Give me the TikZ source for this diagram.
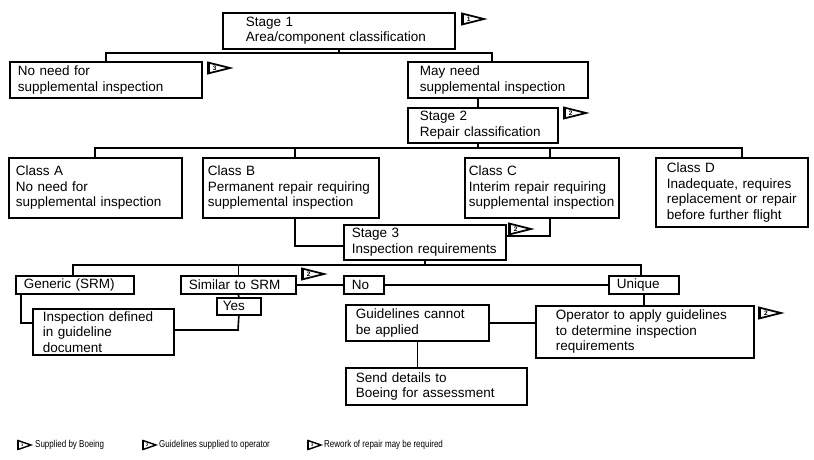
\documentclass[tikz,border=0pt]{standalone}
\usepackage{fontspec}
\setmainfont{Liberation Sans}
\newfontfamily\legendfont[FakeStretch=0.8]{Liberation Sans}
\begin{document}
\begin{tikzpicture}[x=1pt,y=-1pt,
  bx/.style={draw, line width=1.7pt, anchor=north west, align=left, inner ysep=0pt,
    font=\fontsize{13.5}{15.5}\selectfont,
    execute at begin node={\hyphenpenalty=10000\exhyphenpenalty=10000\relax}},
  conn/.style={line width=1.6pt},
  flagmark/.pic={
    \draw[line width=1.8pt, line join=miter] (0,-5.5) -- (22,0) -- (0,5.5) -- cycle;
    \draw[line width=3pt] (0,-6.4) -- (0,6.4);
    \node[font=\fontsize{6.5}{6.5}\selectfont\bfseries, inner sep=0pt] (n) at (6.8,0) {#1};
  },
  legflag/.pic={
    \draw[line width=1.4pt, line join=miter] (0,-4.5) -- (13,0) -- (0,4.5) -- cycle;
    \draw[line width=2.4pt] (0,-5.2) -- (0,5.2);
    \node[font=\fontsize{4}{4}\selectfont\bfseries, inner sep=0pt] (n) at (4.3,0) {#1};
  },
  legtext/.style={anchor=west, inner sep=0pt, font=\legendfont\fontsize{10}{10}\selectfont}
]
\useasboundingbox (0,0) rectangle (814,460);

% ---- boxes ----
\node[bx, minimum width=232, minimum height=36, inner xsep=23, text width=186] (s1) at (222,12) {Stage 1\\Area/component classification};
\node[bx, minimum width=192, minimum height=36, inner xsep=8, text width=176] (noneed) at (9,61) {No need for\\supplemental inspection};
\node[bx, minimum width=180, minimum height=36, inner xsep=12, text width=156] (mayneed) at (407,61) {May need\\supplemental inspection};
\node[bx, minimum width=150, minimum height=35, inner xsep=12, text width=126] (s2) at (407,107) {Stage 2\\Repair classification};

\node[bx, minimum width=173, minimum height=60, inner xsep=7, text width=159] (cA) at (8,157) {Class A\\No need for\\supplemental inspection};
\node[bx, minimum width=176, minimum height=60, inner xsep=5, text width=166] (cB) at (202,157) {Class B\\Permanent repair requiring\\supplemental inspection};
\node[bx, minimum width=154, minimum height=60, inner xsep=4, text width=146] (cC) at (464,157) {Class C\\Interim repair requiring\\supplemental inspection};
\node[bx, minimum width=152, minimum height=69, inner xsep=11, text width=130] (cD) at (655,157) {Class D\\Inadequate, requires\\replacement or repair\\before further flight};

\node[bx, minimum width=162, minimum height=35, inner xsep=8, text width=146] (s3) at (343,224) {Stage 3\\Inspection requirements};

\node[bx, minimum width=118, minimum height=18, inner xsep=8, text width=102] (gen) at (15,275) {Generic (SRM)};
\node[bx, minimum width=115, minimum height=18, inner xsep=8, text width=99] (sim) at (180,275) {Similar to SRM};
\node[bx, minimum width=40, minimum height=18, inner xsep=8, text width=24] (no) at (343,275) {No};
\node[bx, minimum width=70, minimum height=18, inner xsep=8, text width=54] (uniq) at (608,275) {Unique};

\node[bx, minimum width=44, minimum height=17, inner xsep=6, text width=32] (yes) at (216,297) {Yes};
\node[bx, minimum width=141, minimum height=46, inner xsep=10, text width=121] (insp) at (32,308) {Inspection defined\\in guideline\\document};
\node[bx, minimum width=143, minimum height=36, inner xsep=10, text width=123] (gl) at (345,304) {Guidelines cannot\\be applied};
\node[bx, minimum width=218, minimum height=52, inner xsep=20, text width=178] (op) at (535,305) {Operator to apply guidelines\\to determine inspection\\requirements};
\node[bx, minimum width=181, minimum height=37, inner xsep=10, text width=161] (send) at (345,367) {Send details to\\Boeing for assessment};

% ---- junction coordinates ----
\coordinate (b1L) at (106,53);
\coordinate (b1R) at (492,53);
\coordinate (v2) at (478,0);
\coordinate (b2L) at (95,148);
\coordinate (b2R) at (742,148);
\coordinate (b2B) at (295,148);
\coordinate (b2C) at (550,148);
\coordinate (kB) at (295,246);
\coordinate (kC) at (550,236);
\coordinate (v3) at (425,265);
\coordinate (b3L) at (73,265);
\coordinate (b3R) at (641,265);
\coordinate (kG) at (21,323);
\coordinate (kY) at (238,330);

% ---- connectors ----
\draw[conn] (s1.south) -- (s1.south |- b1L);
\draw[conn] (b1L |- noneed.north) -- (b1L) -- (b1R) -- (b1R |- mayneed.north);
\draw[conn] (mayneed.south -| v2) -- (s2.north -| v2);
\draw[conn] (s2.south -| v2) -- (v2 |- b2L);
\draw[conn] (b2L |- cA.north) -- (b2L) -- (b2R) -- (b2R |- cD.north);
\draw[conn] (b2B) -- (b2B |- cB.north);
\draw[conn] (b2C) -- (b2C |- cC.north);
\draw[conn] (cB.south -| kB) -- (kB) -- (kB -| s3.west);
\draw[conn] (cC.south -| kC) -- (kC) -- (kC -| s3.east);
\draw[conn] (s3.south -| v3) -- (v3);
\draw[conn] (b3L |- gen.north) -- (b3L) -- (b3R) -- (b3R |- uniq.north);
\draw[conn] (sim.north) -- (sim.north |- b3L);
\draw[conn] (sim.east) -- (no.west);
\draw[conn] (no.east) -- (uniq.west);
\draw[conn] (gen.south -| kG) -- (kG) -- (kG -| insp.west);
\draw[conn] (sim.south) -- (yes.north);
\draw[conn] (yes.south) -- (kY) -- (kY -| insp.east);
\draw[conn] (gl.east) -- (gl.east -| op.west);
\draw[conn] (uniq.south) -- (uniq.south |- op.north);
\draw[conn] (gl.south) -- (gl.south |- send.north);

% ---- flags ----
\pic (fA) at (462,19) {flagmark=1};
\pic (fB) at (208,68) {flagmark=3};
\pic (fC) at (564,113) {flagmark=2};
\pic (fD) at (509,229) {flagmark=2};
\pic (fE) at (302,274) {flagmark=2};
\pic (fF) at (759,313) {flagmark=2};

% ---- legend ----
\pic (l1) at (18,445) {legflag=1};
\node[legtext] (t1) at (35,445) {Supplied by Boeing};
\pic (l2) at (143,445) {legflag=2};
\node[legtext] (t2) at (159,445) {Guidelines supplied to operator};
\pic (l3) at (308,445) {legflag=3};
\node[legtext] (t3) at (324,445) {Rework of repair may be required};
\end{tikzpicture}
\end{document}
